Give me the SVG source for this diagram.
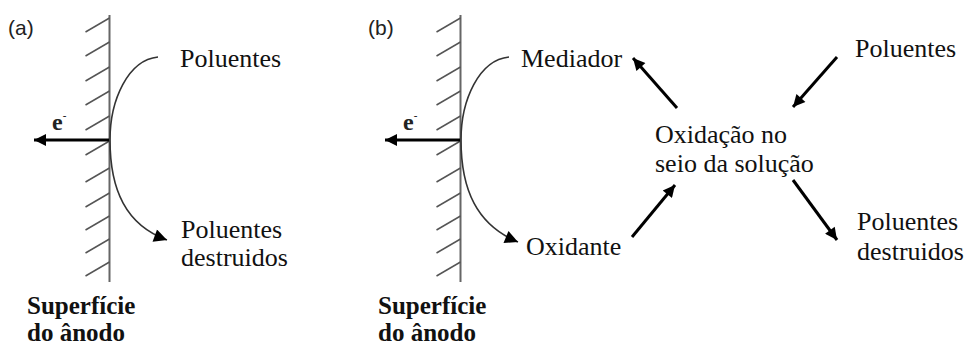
<svg xmlns="http://www.w3.org/2000/svg" width="973" height="345" viewBox="0 0 973 345">
<defs>
<marker id="ah" viewBox="0 0 10 10" refX="10" refY="5" markerWidth="14" markerHeight="12" markerUnits="userSpaceOnUse" orient="auto"><path d="M0,0 L10,5 L0,10 Z" fill="#000"/></marker>
<marker id="ahc" viewBox="0 0 10 10" refX="10" refY="5" markerWidth="16" markerHeight="13" markerUnits="userSpaceOnUse" orient="auto"><path d="M0,0 L10,5 L0,10 Z" fill="#000"/></marker>
<g id="wall">
<line x1="0" y1="15" x2="0" y2="282" stroke="#666" stroke-width="2"/>
<g stroke="#555" stroke-width="1.5">
<line x1="-24" y1="32" x2="0" y2="18"/>
<line x1="-24" y1="56" x2="0" y2="42"/>
<line x1="-24" y1="81" x2="0" y2="67"/>
<line x1="-24" y1="105" x2="0" y2="91"/>
<line x1="-24" y1="130" x2="0" y2="116"/>
<line x1="-24" y1="155" x2="0" y2="141"/>
<line x1="-24" y1="182" x2="0" y2="168"/>
<line x1="-24" y1="207" x2="0" y2="193"/>
<line x1="-24" y1="230" x2="0" y2="216"/>
<line x1="-24" y1="253" x2="0" y2="239"/>
<line x1="-24" y1="276" x2="0" y2="262"/>
</g>
</g>
</defs>
<style>
.sans{font-family:'Liberation Sans','DejaVu Sans',sans-serif;font-size:21px;fill:#222}
.serif{font-family:'Liberation Serif','DejaVu Serif',serif;font-size:26px;fill:#111}
.bold{font-family:'Liberation Serif','DejaVu Serif',serif;font-size:25px;font-weight:bold;fill:#111}
.e{font-family:'Liberation Serif','DejaVu Serif',serif;font-size:24px;font-weight:bold;fill:#222}
.curve{fill:none;stroke:#333;stroke-width:1.6}
.thick{fill:none;stroke:#000;stroke-width:3}
</style>

<g id="panel-a">
<text class="sans" x="8" y="35">(a)</text>
<g id="anode-a"><use href="#wall" x="109.5"/></g>
<text class="serif" x="180" y="67">Poluentes</text>
<text class="serif" x="181" y="238">Poluentes</text>
<text class="serif" x="181" y="266">destruidos</text>
<text class="bold" x="27" y="314">Superfície</text>
<text class="bold" x="27" y="341">do ânodo</text>
<text class="e" x="52" y="130">e<tspan dy="-11" font-size="11">-</tspan></text>
</g>

<g id="panel-b">
<text class="sans" x="368" y="35">(b)</text>
<g id="anode-b"><use href="#wall" x="460.5"/></g>
<text class="serif" x="521" y="67">Mediador</text>
<text class="serif" x="526" y="255">Oxidante</text>
<text class="serif" x="655" y="143">Oxidação no</text>
<text class="serif" x="655" y="172">seio da solução</text>
<text class="serif" x="855" y="57">Poluentes</text>
<text class="serif" x="857" y="230">Poluentes</text>
<text class="serif" x="857" y="260">destruidos</text>
<text class="bold" x="378" y="314">Superfície</text>
<text class="bold" x="378" y="341">do ânodo</text>
<text class="e" x="403" y="130">e<tspan dy="-11" font-size="11">-</tspan></text>
</g>

<g id="connectors">
<line class="thick" x1="109" y1="140" x2="34" y2="140" marker-end="url(#ah)"/>
<path class="curve" d="M158,57 C128,60 110,100 110,140 C110,190 126,225 167,240" marker-end="url(#ahc)"/>
<line class="thick" x1="460" y1="140" x2="385" y2="140" marker-end="url(#ah)"/>
<path class="curve" d="M509,57 C479,60 461,100 461,140 C461,190 477,225 518,242" marker-end="url(#ahc)"/>
<line class="thick" x1="677" y1="108" x2="633" y2="58" marker-end="url(#ah)"/>
<line class="thick" x1="837" y1="57" x2="793" y2="107" marker-end="url(#ah)"/>
<line class="thick" x1="632" y1="237" x2="675" y2="185" marker-end="url(#ah)"/>
<line class="thick" x1="793" y1="180" x2="837" y2="240" marker-end="url(#ah)"/>
</g>
</svg>
